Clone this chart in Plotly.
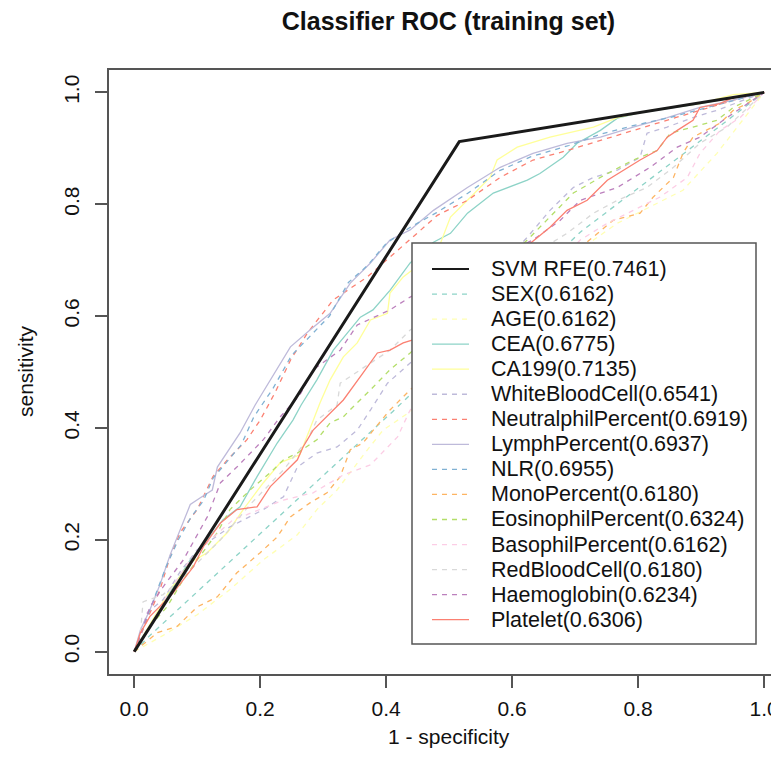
import plotly.graph_objects as go

# ---------------- data ----------------
series_names = ["SVM RFE", "SEX", "AGE", "CEA", "CA199", "WhiteBloodCell",
                "NeutralphilPercent", "LymphPercent", "NLR", "MonoPercent",
                "EosinophilPercent", "BasophilPercent", "RedBloodCell",
                "Haemoglobin", "Platelet"]
auc_values = [0.7461, 0.6162, 0.6162, 0.6775, 0.7135, 0.6541, 0.6919, 0.6937,
              0.6955, 0.6180, 0.6324, 0.6162, 0.6180, 0.6234, 0.6306]

svm_fpr = [0, 0.516, 1]
svm_tpr = [0, 0.912, 1]

sex_fpr = [0, 0.025, 0.411, 0.708, 1]
sex_tpr = [0, 0.029, 0.430, 0.750, 1]

age_fpr = [0, 0.021, 0.046, 0.1, 0.152, 0.205, 0.259, 0.290, 0.322, 0.364, 0.395, 0.438,
           0.729, 0.767, 0.819, 0.871, 0.925, 0.962, 1]
age_tpr = [0, 0.013, 0.029, 0.066, 0.111, 0.164, 0.209, 0.254, 0.289, 0.352, 0.396, 0.429,
           0.736, 0.766, 0.795, 0.825, 0.891, 0.945, 1]

cea_fpr = [0, 0.025, 0.057, 0.089, 0.116, 0.141, 0.168, 0.195, 0.227, 0.252, 0.265, 0.290,
           0.316, 0.359, 0.379, 0.406, 0.438, 0.475, 0.502, 0.529, 0.570, 0.624, 0.644,
           0.681, 0.703, 0.740, 0.767, 0.803, 0.898, 1]
cea_tpr = [0, 0.048, 0.107, 0.164, 0.200, 0.236, 0.259, 0.313, 0.373, 0.414, 0.441, 0.486,
           0.539, 0.598, 0.611, 0.646, 0.695, 0.732, 0.748, 0.784, 0.820, 0.843, 0.855,
           0.884, 0.909, 0.932, 0.954, 0.964, 0.980, 1]

ca199_fpr = [0, 0.025, 0.057, 0.089, 0.116, 0.148, 0.173, 0.205, 0.232, 0.263, 0.284, 0.295,
             0.311, 0.332, 0.354, 0.375, 0.402, 0.406, 0.427, 0.441, 0.486, 0.502, 0.529,
             0.565, 0.576, 0.608, 0.660, 0.729, 0.767, 0.819, 0.898, 0.951, 1]
ca199_tpr = [0, 0.048, 0.111, 0.159, 0.177, 0.213, 0.254, 0.302, 0.338, 0.352, 0.414, 0.445,
             0.486, 0.527, 0.552, 0.593, 0.605, 0.641, 0.670, 0.682, 0.730, 0.777, 0.807,
             0.848, 0.879, 0.902, 0.920, 0.938, 0.955, 0.968, 0.980, 0.996, 1]

wbc_fpr = [0, 0.021, 0.046, 0.073, 0.1, 0.152, 0.205, 0.237, 0.259, 0.290, 0.322, 0.354,
           0.375, 0.402, 0.438, 0.624, 0.660, 0.697, 0.729, 0.767, 0.803, 0.814, 0.846,
           0.887, 0.925, 0.978, 1]
wbc_tpr = [0, 0.070, 0.093, 0.143, 0.182, 0.223, 0.254, 0.277, 0.330, 0.355, 0.366, 0.396,
           0.432, 0.480, 0.516, 0.741, 0.789, 0.830, 0.848, 0.861, 0.884, 0.927, 0.938,
           0.955, 0.968, 0.991, 1]

neut_fpr = [0, 0.017, 0.041, 0.057, 0.073, 0.1, 0.125, 0.148, 0.179, 0.2, 0.224, 0.248,
            0.275, 0.316, 0.370, 0.406, 0.449, 0.481, 0.529, 0.581, 0.633, 0.687, 0.740,
            0.792, 0.846, 0.898, 0.951, 1]
neut_tpr = [0, 0.048, 0.111, 0.170, 0.213, 0.254, 0.313, 0.343, 0.379, 0.414, 0.464, 0.521,
            0.570, 0.629, 0.670, 0.705, 0.748, 0.780, 0.807, 0.848, 0.879, 0.896, 0.914,
            0.932, 0.950, 0.968, 0.986, 1]

lymph_fpr = [0, 0.01, 0.025, 0.041, 0.057, 0.073, 0.089, 0.105, 0.124, 0.132, 0.168, 0.192,
             0.216, 0.248, 0.279, 0.311, 0.343, 0.375, 0.406, 0.438, 0.475, 0.529, 0.581,
             0.633, 0.687, 0.740, 0.792, 0.846, 0.898, 0.951, 1]
lymph_tpr = [0, 0.039, 0.075, 0.120, 0.173, 0.218, 0.263, 0.275, 0.289, 0.330, 0.391, 0.441,
             0.486, 0.545, 0.575, 0.605, 0.659, 0.695, 0.736, 0.754, 0.789, 0.830, 0.866,
             0.891, 0.909, 0.920, 0.938, 0.955, 0.973, 0.986, 1]

nlr_fpr = [0, 0.01, 0.03, 0.05, 0.07, 0.09, 0.11, 0.125, 0.14, 0.17, 0.19, 0.22, 0.25,
           0.28, 0.31, 0.34, 0.37, 0.40, 0.44, 0.48, 0.53, 0.58, 0.63, 0.69, 0.74, 0.79,
           0.85, 0.90, 0.95, 1]
nlr_tpr = [0, 0.03, 0.09, 0.15, 0.20, 0.24, 0.27, 0.31, 0.33, 0.37, 0.42, 0.47, 0.53,
           0.565, 0.60, 0.66, 0.69, 0.73, 0.76, 0.785, 0.82, 0.86, 0.885, 0.905, 0.925,
           0.94, 0.955, 0.97, 0.985, 1]

mono_fpr = [0, 0.037, 0.068, 0.1, 0.132, 0.163, 0.2, 0.227, 0.248, 0.279, 0.306, 0.327,
            0.343, 0.363, 0.386, 0.406, 0.438, 0.724, 0.760, 0.803, 0.824, 0.856, 0.871,
            0.887, 0.930, 0.951, 0.973, 1]
mono_tpr = [0, 0.034, 0.045, 0.080, 0.098, 0.141, 0.177, 0.205, 0.241, 0.266, 0.284, 0.313,
            0.361, 0.373, 0.405, 0.432, 0.468, 0.736, 0.771, 0.784, 0.813, 0.848, 0.891,
            0.920, 0.945, 0.968, 0.980, 1]

eos_fpr = [0, 0.025, 0.052, 0.078, 0.1, 0.132, 0.152, 0.184, 0.216, 0.237, 0.259, 0.290,
           0.311, 0.332, 0.354, 0.375, 0.406, 0.438, 0.624, 0.660, 0.697, 0.740, 0.792,
           0.830, 0.851, 0.887, 0.925, 0.951, 1]
eos_tpr = [0, 0.045, 0.080, 0.129, 0.164, 0.213, 0.254, 0.289, 0.320, 0.343, 0.355, 0.379,
           0.409, 0.420, 0.445, 0.468, 0.504, 0.534, 0.736, 0.777, 0.820, 0.848, 0.879,
           0.896, 0.927, 0.938, 0.950, 0.973, 1]

baso_fpr = [0, 0.025, 0.057, 0.089, 0.116, 0.157, 0.179, 0.237, 0.284, 0.332, 0.375, 0.418,
            0.438, 0.708, 0.751, 0.792, 0.835, 0.878, 0.898, 0.930, 0.962, 1]
baso_tpr = [0, 0.043, 0.111, 0.164, 0.195, 0.236, 0.245, 0.271, 0.284, 0.316, 0.334, 0.384,
            0.432, 0.736, 0.766, 0.789, 0.813, 0.848, 0.891, 0.932, 0.955, 1]

rbc_fpr = [0, 0.01, 0.014, 0.046, 0.089, 0.137, 0.184, 0.237, 0.275, 0.290, 0.322, 0.327,
           0.359, 0.406, 0.438, 0.687, 0.729, 0.767, 0.814, 0.856, 0.898, 0.941, 1]
rbc_tpr = [0, 0.034, 0.089, 0.102, 0.146, 0.200, 0.263, 0.325, 0.379, 0.414, 0.441, 0.480,
           0.504, 0.539, 0.575, 0.748, 0.784, 0.807, 0.830, 0.866, 0.909, 0.938, 1]

haem_fpr = [0, 0.01, 0.025, 0.046, 0.078, 0.116, 0.137, 0.163, 0.205, 0.232, 0.263, 0.284,
            0.327, 0.354, 0.406, 0.438, 0.633, 0.676, 0.708, 0.767, 0.819, 0.862, 0.898,
            0.941, 1]
haem_tpr = [0, 0.030, 0.080, 0.116, 0.164, 0.241, 0.302, 0.330, 0.379, 0.420, 0.459, 0.504,
            0.539, 0.584, 0.611, 0.634, 0.736, 0.771, 0.807, 0.830, 0.866, 0.902, 0.920,
            0.955, 1]

plt_fpr = [0, 0.01, 0.025, 0.062, 0.094, 0.110, 0.137, 0.163, 0.195, 0.216, 0.259, 0.268,
           0.284, 0.311, 0.332, 0.363, 0.386, 0.406, 0.427, 0.441, 0.629, 0.660, 0.687,
           0.719, 0.751, 0.783, 0.803, 0.830, 0.846, 0.862, 0.887, 0.898, 0.930, 0.951, 1]
plt_tpr = [0, 0.034, 0.063, 0.105, 0.152, 0.188, 0.230, 0.254, 0.259, 0.295, 0.343, 0.366,
           0.396, 0.427, 0.450, 0.498, 0.534, 0.539, 0.552, 0.557, 0.730, 0.759, 0.789,
           0.807, 0.843, 0.866, 0.879, 0.896, 0.920, 0.932, 0.950, 0.973, 0.980, 0.991, 1]

series_fpr = [svm_fpr, sex_fpr, age_fpr, cea_fpr, ca199_fpr, wbc_fpr, neut_fpr, lymph_fpr,
              nlr_fpr, mono_fpr, eos_fpr, baso_fpr, rbc_fpr, haem_fpr, plt_fpr]
series_tpr = [svm_tpr, sex_tpr, age_tpr, cea_tpr, ca199_tpr, wbc_tpr, neut_tpr, lymph_tpr,
              nlr_tpr, mono_tpr, eos_tpr, baso_tpr, rbc_tpr, haem_tpr, plt_tpr]

x_ticks = [0.0, 0.2, 0.4, 0.6, 0.8, 1.0]
y_ticks = [0.0, 0.2, 0.4, 0.6, 0.8, 1.0]

# ---------------- styles ----------------
series_colors = ["#1a1a1a", "#8DD3C7", "#FFFFB3", "#8DD3C7", "#FFFF99", "#BEBADA",
                 "#FB8072", "#BEBADA", "#80B1D3", "#FDB462", "#B3DE69", "#FCCDE5",
                 "#D9D9D9", "#BC80BD", "#FB8072"]
series_dash = ["solid", "dash", "dash", "solid", "solid", "dash", "dash", "solid",
               "dash", "dash", "dash", "dash", "dash", "dash", "solid"]
DASH = "5px,5px"

FONT = "Liberation Sans, Arial, Helvetica, sans-serif"
AXC = "#555555"

# the page body adds an 8px offset; figure is sized so that it fits the window
OFF = 8
W, H = 771, 767
ML, MR, MT, MB = 101, 0, 62, 101
PW, PH = W - ML - MR, H - MT - MB


def pxx(x):  # screen px -> paper
    return (x - OFF - ML) / PW


def pxy(y):
    return (H - MB - (y - OFF)) / PH


fig = go.Figure()

order = list(range(1, len(series_names))) + [0]
for i in order:
    fig.add_trace(go.Scatter(
        x=series_fpr[i], y=series_tpr[i], mode="lines",
        name=f"{series_names[i]}({auc_values[i]:.4f})",
        line=dict(color=series_colors[i],
                  width=3 if i == 0 else 1.3,
                  dash=DASH if series_dash[i] == "dash" else "solid"),
        showlegend=False, hoverinfo="skip"))

# ---------------- manual legend (R-style box) ----------------
shapes = [dict(type="rect", xref="paper", yref="paper",
               x0=pxx(412), x1=pxx(756), y0=pxy(644), y1=pxy(243),
               fillcolor="white", line=dict(color=AXC, width=1.5), layer="above")]
annotations = []
for i, nm in enumerate(series_names):
    yy = pxy(269 + 25.05 * i)
    shapes.append(dict(type="line", xref="paper", yref="paper",
                       x0=pxx(432), x1=pxx(469), y0=yy, y1=yy, layer="above",
                       line=dict(color=series_colors[i], width=2.2 if i == 0 else 1.3,
                                 dash=DASH if series_dash[i] == "dash" else "solid")))
    annotations.append(dict(xref="paper", yref="paper", x=pxx(489), y=yy,
                            xanchor="left", yanchor="middle", showarrow=False,
                            text=f"{nm}({auc_values[i]:.4f})",
                            font=dict(family=FONT, size=21.5, color="#111")))

annotations.append(dict(xref="paper", yref="paper", x=pxx(448.5), y=pxy(736),
                        xanchor="center", yanchor="middle", showarrow=False,
                        text="1 - specificity", font=dict(family=FONT, size=21, color="#111")))
annotations.append(dict(xref="paper", yref="paper", x=pxx(25), y=pxy(371),
                        xanchor="center", yanchor="middle", showarrow=False, textangle=-90,
                        text="sensitivity", font=dict(family=FONT, size=21, color="#111")))

fig.update_layout(
    width=W, height=H,
    margin=dict(l=ML, r=MR, t=MT, b=MB, pad=0, autoexpand=False),
    paper_bgcolor="white", plot_bgcolor="white",
    title=dict(text="Classifier ROC (training set)", xref="container", yref="container",
               x=(448.5 - OFF) / W, y=1 - (21 - OFF) / H, xanchor="center", yanchor="middle",
               font=dict(family=FONT, size=25, color="#111", weight="bold")),
    xaxis=dict(range=[-0.04, -0.04 + PW / 630], showgrid=False, zeroline=False,
               automargin=False,
               showline=True, linecolor=AXC, linewidth=1.5, mirror=True,
               ticks="outside", ticklen=12, tickwidth=1.5, tickcolor=AXC,
               ticklabelstandoff=3,
               tickvals=x_ticks, ticktext=[f"{v:.1f}" for v in x_ticks],
               tickfont=dict(family=FONT, size=21, color="#111")),
    yaxis=dict(range=[-0.04, 1.04], showgrid=False, zeroline=False,
               automargin=False,
               showline=True, linecolor=AXC, linewidth=1.5, mirror=False,
               ticks="outside", ticklen=12, tickwidth=1.5, tickcolor=AXC,
               ticklabelstandoff=8,
               tickvals=y_ticks, ticktext=[f"{v:.1f}" for v in y_ticks], tickangle=-90,
               tickfont=dict(family=FONT, size=21, color="#111")),
    shapes=shapes, annotations=annotations, showlegend=False,
)

fig.write_html("out.html")
